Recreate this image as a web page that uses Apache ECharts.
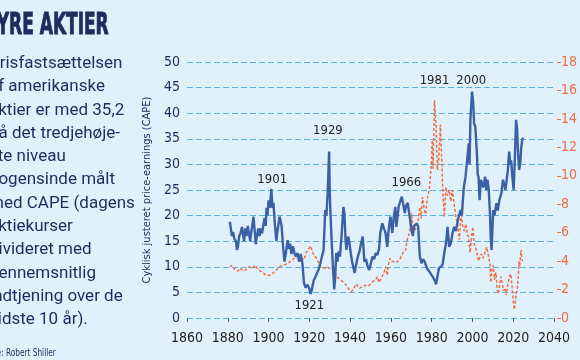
<!DOCTYPE html>
<html><head><meta charset="utf-8">
<script src="https://cdn.jsdelivr.net/npm/echarts@6/dist/echarts.min.js"></script>
<style>html,body{margin:0;padding:0;background:#e1f1fc;}#c{width:580px;height:360px;}</style>
</head><body><div id="c"></div>
<script>
const capeYears=[1881.0,1881.5,1882.0,1882.6,1883.2,1884.0,1884.5,1885.0,1885.6,1886.2,1887.0,1887.5,1888.0,1888.6,1889.2,1889.8,1890.4,1891.0,1891.6,1892.2,1892.6,1893.2,1893.7,1894.3,1895.0,1895.6,1896.2,1896.8,1897.4,1898.0,1898.6,1899.0,1899.5,1900.0,1900.6,1901.4,1901.9,1902.4,1903.0,1903.8,1904.4,1905.4,1905.9,1906.4,1907.0,1907.8,1908.6,1909.4,1910.0,1910.6,1911.2,1912.0,1912.8,1913.4,1914.2,1915.0,1915.8,1916.6,1917.4,1918.2,1919.0,1919.8,1920.6,1921.2,1922.2,1923.0,1923.8,1924.6,1925.4,1926.2,1927.0,1927.8,1928.4,1929.0,1929.7,1930.0,1930.3,1931.0,1931.6,1932.2,1932.7,1933.2,1933.8,1934.4,1935.0,1935.8,1936.7,1937.2,1937.8,1938.2,1939.0,1939.6,1940.2,1941.0,1942.2,1943.0,1943.8,1944.6,1945.4,1946.2,1947.0,1947.8,1948.6,1949.4,1950.2,1951.0,1951.8,1952.6,1953.4,1954.2,1954.8,1955.8,1956.6,1957.4,1958.2,1959.0,1959.8,1960.7,1961.5,1962.2,1962.7,1963.8,1964.6,1965.4,1966.2,1966.8,1967.5,1968.2,1969.0,1970.2,1970.8,1971.4,1972.0,1972.8,1973.4,1974.2,1975.0,1975.8,1976.6,1977.4,1978.2,1979.0,1979.8,1980.6,1981.4,1982.2,1982.8,1983.6,1984.6,1985.4,1986.2,1987.0,1987.8,1988.6,1989.4,1990.2,1991.0,1991.8,1992.6,1993.4,1994.2,1994.8,1995.8,1996.6,1997.4,1998.2,1998.6,1999.0,1999.8,2000.4,2000.8,2001.4,2002.2,2002.6,2003.0,2003.5,2004.2,2004.8,2005.4,2006.2,2006.8,2007.4,2008.0,2008.6,2009.0,2009.4,2010.2,2010.8,2011.4,2011.8,2012.4,2013.2,2014.2,2015.0,2015.6,2016.2,2016.8,2017.4,2018.0,2018.6,2019.0,2019.5,2020.2,2020.8,2021.4,2021.9,2022.4,2022.9,2023.5,2023.9,2024.4,2024.9];
const capeValues=[18.8,17.5,16.0,16.8,15.5,15.0,13.3,14.0,16.0,16.5,17.8,16.2,15.0,17.5,16.0,18.0,16.5,15.0,17.0,18.5,19.8,17.0,14.4,16.0,17.5,16.0,17.5,16.5,18.0,19.5,18.0,21.5,20.0,23.0,21.5,25.2,21.5,22.5,19.0,15.0,17.0,19.8,19.0,18.0,14.6,11.0,13.0,15.2,13.5,14.5,12.5,14.0,12.5,12.0,12.7,11.0,12.5,10.7,6.8,5.9,6.5,6.0,4.7,5.5,7.4,8.0,8.8,9.5,10.7,12.0,13.3,21.1,20.0,24.4,32.5,25.0,21.1,14.6,10.0,5.6,8.0,12.7,11.0,13.0,12.0,16.0,21.7,20.5,15.0,13.3,15.9,15.0,13.0,11.0,8.8,10.5,12.0,13.0,14.6,15.9,11.0,11.5,10.0,9.4,10.7,12.0,11.5,12.7,12.3,13.5,16.6,18.5,17.5,16.6,13.9,17.5,19.8,16.6,20.0,21.7,17.8,21.7,22.8,23.7,24.0,20.5,22.0,22.5,20.4,17.0,16.0,18.0,17.8,18.5,17.8,12.0,10.7,11.5,11.0,10.0,9.4,9.0,8.8,8.0,7.4,6.6,8.0,9.8,10.0,10.5,12.7,14.5,17.8,13.9,14.6,16.5,17.8,17.0,18.5,20.0,21.1,20.0,25.6,27.5,30.8,34.1,30.0,38.7,44.2,42.0,38.0,37.4,32.2,28.0,27.6,23.0,27.0,26.0,25.5,27.6,25.0,27.0,25.0,20.4,15.5,13.3,21.1,20.0,21.5,22.4,21.0,23.0,24.4,27.0,26.0,25.0,27.0,28.9,32.5,30.0,30.8,28.0,25.0,31.0,38.7,37.0,32.2,28.9,30.5,33.0,34.8,35.2];
const rateYears=[1881,1882,1883.5,1885,1886,1887.8,1889,1890.5,1892,1893.4,1895,1897,1899,1900.7,1902.5,1904,1906,1907.8,1909,1911,1912.6,1914,1915.5,1917.4,1918.5,1920.6,1922,1923.5,1925.4,1927,1929,1930.5,1931.9,1933,1934.3,1936,1938.2,1939,1940.6,1941.5,1943,1944.6,1946,1947.5,1949,1950.2,1951.5,1952.5,1953.4,1954.2,1955.4,1956.6,1957.5,1958.2,1958.8,1959.6,1960.4,1961.4,1962.5,1963.5,1964.6,1965.5,1966.2,1967.2,1968,1969.1,1969.8,1970.2,1971,1971.8,1972.6,1973.4,1974.2,1974.8,1975.5,1976.4,1977,1977.8,1979,1979.8,1980.3,1980.7,1981.4,1982.2,1982.8,1983.4,1984.3,1985.0,1985.4,1986.2,1987,1987.8,1988.6,1989.4,1990.2,1991,1992,1992.6,1993.6,1994.5,1995.2,1996,1996.8,1997.5,1998.2,1998.8,1999.5,2000.2,2000.8,2001.4,2002.2,2003,2003.6,2004.4,2005.2,2006.2,2007,2007.8,2008.6,2009,2009.5,2010.2,2010.8,2011.5,2012.2,2012.8,2013.5,2014,2014.8,2015.2,2016,2016.6,2017.4,2018.2,2018.8,2019.4,2019.8,2020.4,2020.8,2021.4,2022,2022.5,2022.8,2023.2,2023.8,2024.2,2024.6];
const rateValues=[3.6,3.7,3.4,3.3,3.5,3.3,3.4,3.6,3.5,3.7,3.4,3.2,3.0,3.0,3.2,3.4,3.66,3.75,3.8,4.0,4.2,4.2,4.3,4.1,4.6,5.06,4.5,4.2,3.6,3.5,3.6,3.4,3.4,3.0,2.8,2.6,2.3,2.1,1.85,2.0,2.4,2.1,2.2,2.3,2.25,2.45,2.6,2.7,2.9,2.5,2.8,3.2,3.6,3.0,3.8,4.2,4.0,3.96,3.9,4.0,4.2,4.3,4.66,4.8,5.5,5.96,6.8,7.36,6.0,6.2,6.4,6.9,7.8,7.0,8.5,7.6,7.3,8.3,9.2,10.8,12.5,10.5,15.3,13.45,10.4,11.0,13.6,11.0,9.2,7.1,9.2,8.6,9.0,8.2,9.0,8.0,7.0,6.7,5.5,7.4,6.5,6.1,6.6,6.0,5.5,4.6,5.6,6.4,5.3,5.0,4.6,4.0,4.3,4.5,4.2,4.66,5.0,4.4,3.8,2.5,3.4,3.7,2.7,3.2,1.97,1.7,2.5,2.9,2.3,1.9,2.1,1.6,2.4,2.9,3.1,2.3,1.6,0.6,0.8,1.6,2.0,3.0,4.0,3.6,4.8,4.2,4.0];
const leftTicks=[0,5,10,15,20,25,30,35,40,45,50];
const rightTicks=[0,2,4,6,8,10,12,14,16,18];
const yearTicks=[1860,1880,1900,1920,1940,1960,1980,2000,2020,2040];
const peakLabels=['1901','1929','1921','1966','1981','2000'];
const peakYears=[1901.8,1929.1,1920.0,1967.6,1981.4,1999.4];
const peakValues=[27.0,36.6,2.5,26.5,46.4,46.4];
const titleText='DYRE AKTIER';
const bodyLines=['Prisfastsættelsen','af amerikanske','aktier er med 35,2','på det tredjehøje-','ste niveau','nogensinde målt','med CAPE (dagens','aktiekurser','divideret med','gennemsnitlig','indtjening over de','sidste 10 år).'];
const sourceText='Kilde: Robert Shiller';
const yName='Cyklisk justeret price-earnings (CAPE)';

const NAVY='#1e2b5c', BLUE='#3c60a4', ORANGE='#ee6e43', GRID='#5ab0e3';
const NARROW='"Liberation Sans Narrow","DejaVu Sans Condensed",sans-serif';
const chart=echarts.init(document.getElementById('c'),null,{renderer:'canvas'});
chart.setOption({
  backgroundColor:'#e1f1fc',
  animation:false,
  grid:{left:187,right:18,top:62,bottom:42},
  xAxis:{type:'value',min:1860,max:2040,interval:20,
    axisLine:{show:false},
    axisTick:{show:true,length:4,lineStyle:{color:'#555'}},
    axisLabel:{color:'#222',fontFamily:NARROW,fontSize:14,margin:13,formatter:v=>yearTicks.includes(v)?String(v):''},
    splitLine:{show:false}},
  yAxis:[{type:'value',min:0,max:50,interval:5,position:'left',
    name:yName,nameLocation:'middle',nameGap:33,nameRotate:90,
    nameTextStyle:{color:NAVY,fontFamily:NARROW,fontSize:11},
    axisLine:{show:false},axisTick:{show:false},
    axisLabel:{color:NAVY,fontFamily:NARROW,fontSize:14,margin:7,formatter:v=>leftTicks.includes(v)?String(v):''},
    splitLine:{show:true,lineStyle:{color:GRID,type:[6,3],width:1}}},
   {type:'value',min:0,max:18,interval:2,position:'right',offset:3,
    axisLine:{show:false},
    axisTick:{show:true,length:4,lineStyle:{color:ORANGE}},
    axisLabel:{color:ORANGE,fontFamily:NARROW,fontSize:14,margin:4,formatter:v=>rightTicks.includes(v)?String(v):''},
    splitLine:{show:false}}],
  series:[
    {type:'line',yAxisIndex:1,data:rateYears.map((y,i)=>[y,rateValues[i]]),showSymbol:false,
     lineStyle:{color:ORANGE,width:1.5,type:[3,2]},z:2},
    {type:'line',yAxisIndex:0,data:capeYears.map((y,i)=>[y,capeValues[i]]),showSymbol:false,
     lineStyle:{color:BLUE,width:2.4},z:3,
     markPoint:{symbol:'circle',symbolSize:0,silent:true,
       label:{show:true,position:'inside',color:'#222',fontFamily:NARROW,fontSize:13,formatter:p=>p.name},
       data:peakLabels.map((n,i)=>({name:n,coord:[peakYears[i],peakValues[i]]}))}}
  ],
  graphic:[
    {type:'text',x:-16,y:26,scaleX:0.61,style:{text:titleText,fill:NAVY,font:'bold 31px '+NARROW,verticalAlign:'middle',stroke:NAVY,lineWidth:1}},
    {type:'text',x:-11,y:52,style:{text:bodyLines.join('\n'),fill:NAVY,font:'17px Roboto',lineHeight:23.3,verticalAlign:'top'}},
    {type:'text',x:-17,y:353,scaleX:0.82,style:{text:sourceText,fill:NAVY,font:'10px '+NARROW,verticalAlign:'middle'}}
  ]
});
</script></body></html>
